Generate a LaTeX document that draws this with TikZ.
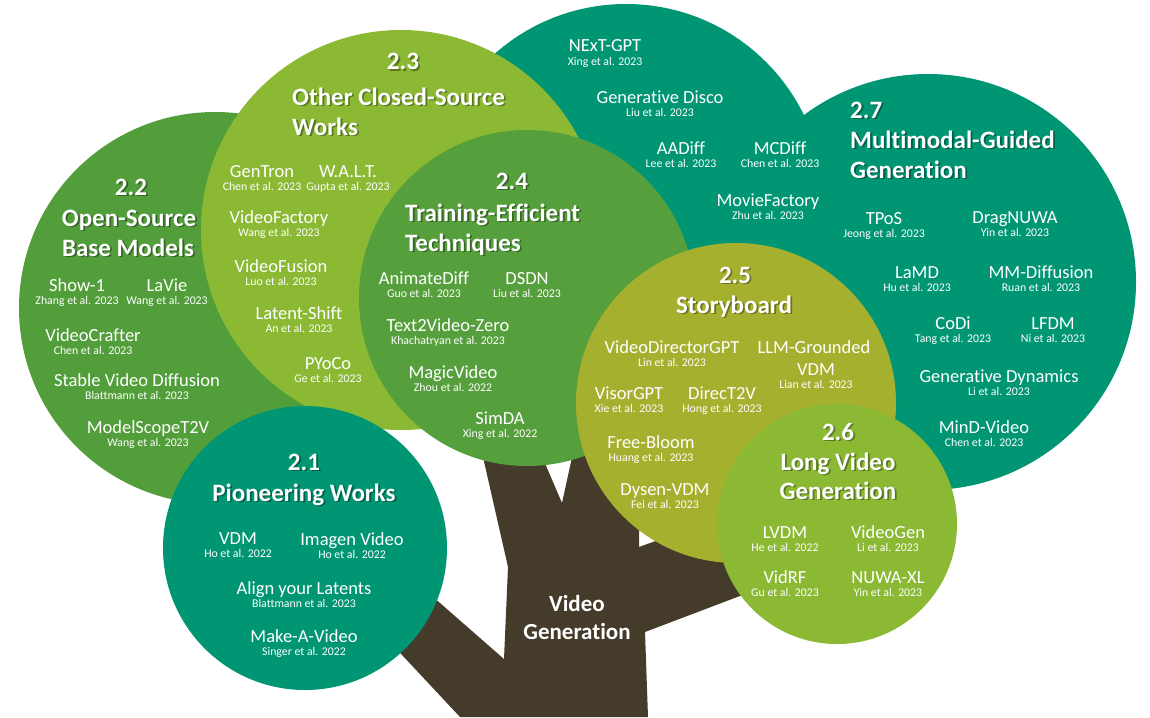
\documentclass[tikz,border=0pt]{standalone}
\usepackage{fontspec}
\setmainfont{Carlito}[Ligatures={NoCommon}]
\definecolor{cteal}{HTML}{009673}
\definecolor{cgreen}{HTML}{529E3A}
\definecolor{cgreenb}{HTML}{55A03C}
\definecolor{clight}{HTML}{8BB934}
\definecolor{colive}{HTML}{A6B02F}
\definecolor{cbrown}{HTML}{453B2B}
\tikzset{
  bubble/.style={circle, inner sep=0pt, draw=none, fill=#1},
  nm/.style={font=\fontsize{18.5}{20}\selectfont, text=white, anchor=base, inner sep=0pt},
  ct/.style={font=\fontsize{11.8}{13}\selectfont, text=white, anchor=base, inner sep=0pt},
  tt/.style={font=\fontsize{25}{28}\selectfont\bfseries, text=white, inner sep=0pt},
  shad/.style={text=black, opacity=0.35},
  trunktxt/.style={font=\fontsize{23}{26}\selectfont\bfseries, text=white, anchor=base, inner sep=0pt}
}
% id, x, y (visual centre of name), name, citation
\newcommand\paper[5]{%
  \node[nm] (n#1) at (#2,#3+6) {#4};
  \node[ct] (c#1) at (#2,#3+19.3) {#5};
}
% id, anchor, x, y (visual centre), text
\newcommand\ttl[5]{%
  \node[tt, shad, anchor=#2] (#1s) at (#3+1.8,#4+9.8) {#5};
  \node[tt, anchor=#2] (#1) at (#3,#4+8) {#5};
}
\begin{document}
\begin{tikzpicture}[x=1pt, y=-1pt]
\useasboundingbox (0,0) rectangle (1150,717);
\fill[white] (0,0) rectangle (1150,717);

% trunk
\fill[cbrown] (460,717) -- (360,610) -- (400,568) -- (504,659) -- (508,567)
  -- (478,435) -- (535,440) -- (562,503) -- (578,430) -- (639,500)
  -- (639,547) -- (700,525) -- (790,577) -- (645,632) -- (648,717) -- cycle;

% bubbles (bottom to top)
\node[bubble=cteal, minimum size=396] (b27a) at (626,202) {};
\node[bubble=cteal, minimum size=416] (b27b) at (928,282) {};
\node[bubble=cgreen, minimum size=392] (b22) at (215,308) {};
\node[bubble=clight, minimum size=400] (b23) at (401,230) {};
\node[bubble=cgreenb, minimum size=336] (b24) at (527,298) {};
\node[bubble=colive, minimum size=320] (b25) at (736,403) {};
\node[bubble=clight, minimum size=240] (b26) at (837,524) {};
\node[bubble=cteal, minimum size=284] (b21) at (305,548) {};

% trunk label
\node[trunktxt] (tv1) at (577,611) {Video};
\node[trunktxt] (tv2) at (577,639) {Generation};

% 2.2
\ttl{t22a}{base}{131}{187}{2.2}
\ttl{t22b}{base}{129}{218}{Open-Source}
\ttl{t22c}{base}{128}{248}{Base Models}
\paper{show}{77}{285}{Show-1}{Zhang et al. 2023}
\paper{lavie}{167}{285}{LaVie}{Wang et al. 2023}
\paper{vcrafter}{93}{335}{VideoCrafter}{Chen et al. 2023}
\paper{svd}{137}{380}{Stable Video Diffusion}{Blattmann et al. 2023}
\paper{mst}{148}{427}{ModelScopeT2V}{Wang et al. 2023}

% 2.3
\ttl{t23a}{base}{403}{62}{2.3}
\ttl{t23b}{base west}{292}{97}{Other Closed-Source}
\ttl{t23c}{base west}{292}{127}{Works}
\paper{gentron}{262}{171}{GenTron}{Chen et al. 2023}
\paper{walt}{348}{171}{W.A.L.T.}{Gupta et al. 2023}
\paper{vfactory}{279}{217}{VideoFactory}{Wang et al. 2023}
\paper{vfusion}{281}{266}{VideoFusion}{Luo et al. 2023}
\paper{lshift}{299}{313}{Latent-Shift}{An et al. 2023}
\paper{pyoco}{328}{363}{PYoCo}{Ge et al. 2023}

% 2.4
\ttl{t24a}{base}{512}{181}{2.4}
\ttl{t24b}{base west}{405}{213}{Training-Efficient}
\ttl{t24c}{base west}{405}{243}{Techniques}
\paper{animatediff}{424}{278}{AnimateDiff}{Guo et al. 2023}
\paper{dsdn}{527}{278}{DSDN}{Liu et al. 2023}
\paper{ttvz}{448}{325}{Text2Video-Zero}{Khachatryan et al. 2023}
\paper{magic}{453}{372}{MagicVideo}{Zhou et al. 2022}
\paper{simda}{500}{418}{SimDA}{Xing et al. 2022}

% 2.7 upper
\paper{next}{605}{46}{NExT-GPT}{Xing et al. 2023}
\paper{gdisco}{660}{97}{Generative Disco}{Liu et al. 2023}
\paper{aadiff}{681}{148}{AADiff}{Lee et al. 2023}
\paper{mcdiff}{780}{148}{MCDiff}{Chen et al. 2023}
\paper{moviefactory}{768}{200}{MovieFactory}{Zhu et al. 2023}

% 2.7
\ttl{t27a}{base west}{850}{110}{2.7}
\ttl{t27b}{base west}{850}{140}{Multimodal-Guided}
\ttl{t27c}{base west}{850}{170}{Generation}
\paper{tpos}{884}{218}{TPoS}{Jeong et al. 2023}
\paper{dragnuwa}{1015}{217}{DragNUWA}{Yin et al. 2023}
\paper{lamd}{917}{272}{LaMD}{Hu et al. 2023}
\paper{mmdiff}{1041}{272}{MM-Diffusion}{Ruan et al. 2023}
\paper{codi}{953}{323}{CoDi}{Tang et al. 2023}
\paper{lfdm}{1053}{323}{LFDM}{Ni et al. 2023}
\paper{gdyn}{999}{376}{Generative Dynamics}{Li et al. 2023}
\paper{mind}{984}{427}{MinD-Video}{Chen et al. 2023}

% 2.5
\ttl{t25a}{base}{735}{275}{2.5}
\ttl{t25b}{base}{734}{305}{Storyboard}
\paper{vdgpt}{672}{347}{VideoDirectorGPT}{Lin et al. 2023}
\node[nm] (nllm) at (814,353) {LLM-Grounded};
\paper{llm}{816}{369}{VDM}{Lian et al. 2023}
\paper{visor}{629}{393}{VisorGPT}{Xie et al. 2023}
\paper{direct}{722}{393}{DirecT2V}{Hong et al. 2023}
\paper{freebloom}{651}{442}{Free-Bloom}{Huang et al. 2023}
\paper{dysen}{665}{489}{Dysen-VDM}{Fei et al. 2023}

% 2.6
\ttl{t26a}{base}{838}{432}{2.6}
\ttl{t26b}{base}{838}{462}{Long Video}
\ttl{t26c}{base}{838}{491}{Generation}
\paper{lvdm}{785}{532}{LVDM}{He et al. 2022}
\paper{videogen}{888}{532}{VideoGen}{Li et al. 2023}
\paper{vidrf}{785}{577}{VidRF}{Gu et al. 2023}
\paper{nuwa}{888}{577}{NUWA-XL}{Yin et al. 2023}

% 2.1
\ttl{t21a}{base}{304}{462}{2.1}
\ttl{t21b}{base}{304}{493}{Pioneering Works}
\paper{vdm}{238}{538}{VDM}{Ho et al. 2022}
\paper{imagen}{352}{539}{Imagen Video}{Ho et al. 2022}
\paper{ayl}{304}{588}{Align your Latents}{Blattmann et al. 2023}
\paper{mav}{304}{636}{Make-A-Video}{Singer et al. 2022}
\end{tikzpicture}
\end{document}
